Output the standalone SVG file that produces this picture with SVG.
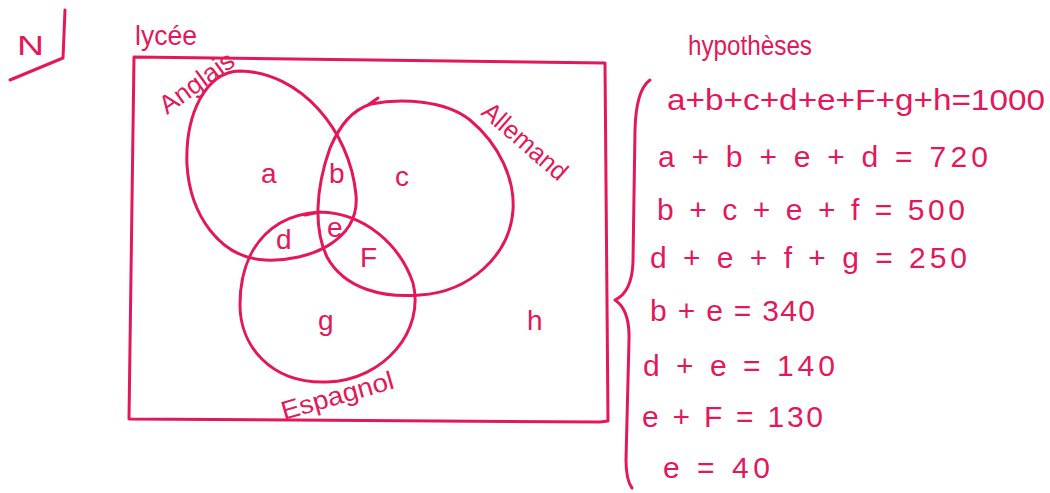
<svg xmlns="http://www.w3.org/2000/svg" width="1050" height="493" viewBox="0 0 1050 493">
<style>
.ink{fill:none;stroke:#e2185b;stroke-width:3;stroke-linecap:round;stroke-linejoin:round}
.t{fill:#e2185b;font-family:"Liberation Sans","DejaVu Sans",sans-serif;font-size:28px}
.lab{fill:#e2185b;font-family:"Liberation Sans","DejaVu Sans",sans-serif;font-size:26px}
.eq{fill:#e2185b;font-family:"Liberation Sans","DejaVu Sans",sans-serif;font-size:30px}
</style>
<rect width="1050" height="493" fill="#ffffff"/>
<g id="mark-N">
<text class="t" x="17" y="55" font-size="40" textLength="27" lengthAdjust="spacingAndGlyphs">N</text>
<path class="ink" d="M65,10 L63,58 L10,80"/>
</g>
<g id="universe-lycee">
<path class="ink" d="M134,57 L605,63 L608,421 L600,422 L129,419 Z"/>
<text class="t" x="135" y="45" textLength="62" lengthAdjust="spacingAndGlyphs">lycée</text>
</g>
<g id="set-anglais">
<path class="ink" d="M240,71 C300,72 350,130 356,195 C360,240 310,262 265,260 C220,258 190,215 187,165 C185,115 205,72 240,71 Z"/>
<text class="lab" transform="translate(167,115) rotate(-36)" textLength="86" lengthAdjust="spacingAndGlyphs">Anglais</text>
</g>
<g id="set-allemand">
<path class="ink" d="M368,105 L378,98 M371,104 C400,98 445,100 470,120 C500,145 515,180 513,210 C510,255 470,292 420,295 C385,298 345,290 327,257 C314,230 315,190 330,148 C340,125 352,110 371,104 Z"/>
<text class="lab" transform="translate(480,114) rotate(41)" textLength="104" lengthAdjust="spacingAndGlyphs">Allemand</text>
</g>
<g id="set-espagnol">
<path class="ink" d="M305,215 L320,212 C365,213 400,245 413,283 C425,330 385,380 327,382 C270,384 240,345 240,305 C240,270 252,240 280,223 C292,216 305,213 320,212"/>
<text class="lab" transform="translate(284,420) rotate(-16)" textLength="116" lengthAdjust="spacingAndGlyphs">Espagnol</text>
</g>
<g id="regions">
<text class="t" x="261" y="183">a</text>
<text class="t" x="329" y="183">b</text>
<text class="t" x="395" y="186">c</text>
<text class="t" x="276" y="249">d</text>
<text class="t" x="327" y="237">e</text>
<text class="t" x="360" y="267">F</text>
<text class="t" x="318" y="330">g</text>
<text class="t" x="527" y="330">h</text>
</g>
<g id="hypotheses">
<text class="t" x="688" y="55" font-size="32" textLength="124" lengthAdjust="spacingAndGlyphs">hypothèses</text>
<path class="ink" d="M650,80 Q636,90 635,130 L633,262 Q632,292 615,300 Q630,310 629,340 L626,460 Q626,480 632,488"/>
<text class="eq" x="667" y="110" textLength="378" lengthAdjust="spacingAndGlyphs">a+b+c+d+e+F+g+h=1000</text>
<text class="eq" x="658" y="167" textLength="330" lengthAdjust="spacing">a + b + e + d  =  720</text>
<text class="eq" x="657" y="220" textLength="308" lengthAdjust="spacing">b + c + e + f =  500</text>
<text class="eq" x="650" y="268" textLength="317" lengthAdjust="spacing">d + e + f + g  =  250</text>
<text class="eq" x="650" y="321" textLength="165" lengthAdjust="spacing">b + e = 340</text>
<text class="eq" x="643" y="376" textLength="192" lengthAdjust="spacing">d + e  = 140</text>
<text class="eq" x="642" y="427" textLength="181" lengthAdjust="spacing">e + F  = 130</text>
<text class="eq" x="663" y="478" textLength="107" lengthAdjust="spacing">e = 40</text>
</g>
</svg>
